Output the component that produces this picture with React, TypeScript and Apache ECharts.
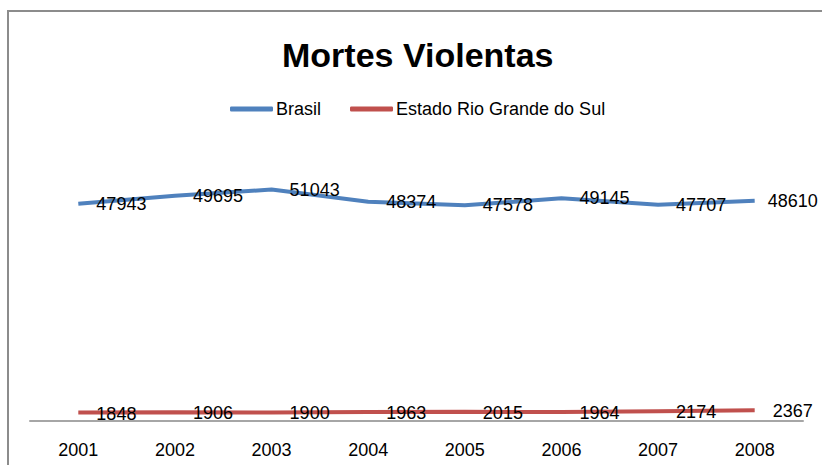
import React, { useEffect, useRef } from "react";
import * as echarts from "echarts";

const years = ["2001", "2002", "2003", "2004", "2005", "2006", "2007", "2008"];
const brasil = [47943, 49695, 51043, 48374, 47578, 49145, 47707, 48610];
const rioGrandeDoSul = [1848, 1906, 1900, 1963, 2015, 1964, 2174, 2367];
const seriesNames = ["Brasil", "Estado Rio Grande do Sul"];
const titleText = "Mortes Violentas";

const FONT = "'Liberation Sans', Arial, sans-serif";

export default function App() {
  const ref = useRef<HTMLDivElement>(null);
  useEffect(() => {
    if (!ref.current) return;
    const chart = echarts.init(ref.current, undefined, { renderer: "svg" });
    const labelBase = {
      show: true,
      position: "right",
      distance: 18,
      color: "#000",
      fontSize: 18,
      fontFamily: FONT,
    };
    const brasilData = brasil.map((v, i) =>
      i === brasil.length - 1 ? { value: v, label: { distance: 13 } } : v
    );
    chart.setOption({
      animation: false,
      backgroundColor: "#fff",
      title: {
        text: titleText,
        left: 277,
        top: 33,
        textStyle: { fontFamily: FONT, fontSize: 34, fontWeight: "bold", color: "#000" },
      },
      legend: {
        data: seriesNames,
        left: 225,
        top: 95,
        icon: "roundRect",
        itemWidth: 43,
        itemHeight: 5,
        itemGap: 29,
        textStyle: { fontFamily: FONT, fontSize: 18, color: "#000", padding: [0, 0, 0, -2] },
      },
      grid: { left: 30, right: 19, top: 149, height: 272 },
      xAxis: {
        type: "category",
        data: years,
        boundaryGap: true,
        axisLine: { lineStyle: { color: "#a6a6a6", width: 2 } },
        axisTick: { show: false },
        axisLabel: { fontFamily: FONT, fontSize: 18, color: "#000", margin: 20 },
      },
      yAxis: {
        type: "value",
        min: 0,
        max: 60000,
        interval: 10000,
        show: false,
        splitLine: { show: false },
      },
      graphic: [
        {
          type: "rect",
          shape: { x: 8, y: 11, width: 840, height: 480 },
          style: { fill: "none", stroke: "#8c8c8c", lineWidth: 2 },
          silent: true,
        },
      ],
      series: [
        {
          name: seriesNames[0],
          type: "line",
          data: brasilData,
          symbol: "circle",
          symbolSize: 0.1,
          showSymbol: true,
          lineStyle: { color: "#4f81bd", width: 4 },
          itemStyle: { color: "#4f81bd" },
          label: labelBase,
        },
        {
          name: seriesNames[1],
          type: "line",
          data: rioGrandeDoSul,
          symbol: "circle",
          symbolSize: 0.1,
          showSymbol: true,
          lineStyle: { color: "#c0504d", width: 4 },
          itemStyle: { color: "#c0504d" },
          label: { ...labelBase, offset: [0, 1] },
        },
      ],
    });
    return () => chart.dispose();
  }, []);
  return (
    <div
      ref={ref}
      style={{ position: "fixed", left: 0, top: 0, width: 822, height: 465 }}
    />
  );
}
